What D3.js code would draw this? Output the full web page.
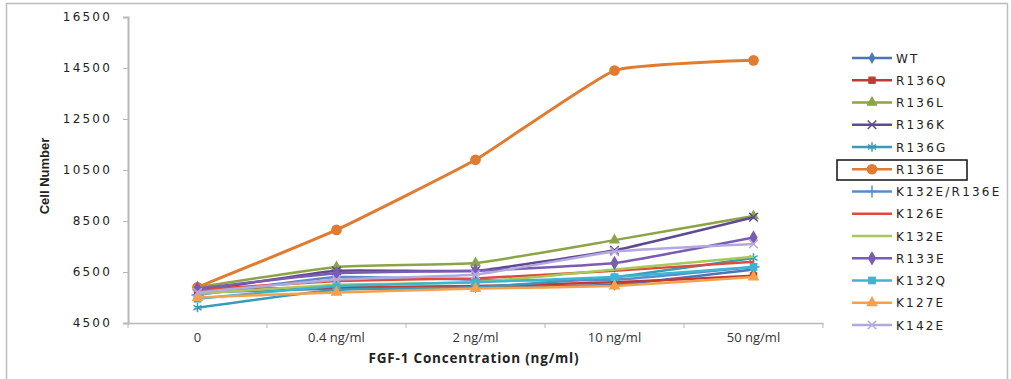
<!DOCTYPE html>
<html><head><meta charset="utf-8">
<script src="https://cdn.jsdelivr.net/npm/d3@7"></script>
<style>body{margin:0;background:#fff}svg{display:block}</style>
</head><body>
<svg id="c" width="1011" height="379"></svg>
<script>
const categories = ["0", "0.4 ng/ml", "2 ng/ml", "10 ng/ml", "50 ng/ml"];
const seriesNames = ["WT","R136Q","R136L","R136K","R136G","R136E","K132E/R136E","K126E","K132E","R133E","K132Q","K127E","K142E"];
const WT      = [5700, 5850, 5900, 6000, 6600];
const R136Q   = [5800, 5900, 5950, 6100, 6350];
const R136L   = [5900, 6700, 6850, 7750, 8700];
const R136K   = [5750, 6550, 6550, 7350, 8650];
const R136G   = [5100, 5800, 5900, 6300, 7050];
const R136E   = [5900, 8150, 10900, 14400, 14800];
const K132E_R136E = [5600, 6300, 6200, 6200, 6700];
const K126E   = [5800, 6150, 6250, 6550, 6900];
const K132E   = [5650, 6000, 6100, 6600, 7100];
const R133E   = [5850, 6450, 6550, 6850, 7850];
const K132Q   = [5450, 5950, 6100, 6300, 6700];
const K127E   = [5500, 5700, 5850, 5950, 6300];
const K142E   = [5700, 6200, 6400, 7300, 7600];
const values = [WT,R136Q,R136L,R136K,R136G,R136E,K132E_R136E,K126E,K132E,R133E,K132Q,K127E,K142E];
const yTicks = [4500, 6500, 8500, 10500, 12500, 14500, 16500];

const colors = ["#4A76B8","#BE3A34","#8BA446","#5E4A93","#3A9BB8","#E07B30","#5B8CC8","#E04A3A","#A8C85A","#7A5CB0","#3CB4D2","#F5A04A","#B4A8E0"];
const markers = [d3.symbolDiamond, d3.symbolSquare, d3.symbolTriangle, d3.symbolTimes, d3.symbolAsterisk, d3.symbolCircle, d3.symbolPlus, null, null, d3.symbolDiamond, d3.symbolSquare, d3.symbolTriangle, d3.symbolTimes];
const msize = [40, 55, 55, 50, 60, 90, 50, 0, 0, 60, 60, 60, 50];
const strokeMarker = m => m===d3.symbolTimes || m===d3.symbolPlus || m===d3.symbolAsterisk;

const svg = d3.select("#c");
svg.append("rect").attr("x",6.5).attr("y",3.5).attr("width",1001).attr("height",420)
  .attr("fill","none").attr("stroke","#bdbdbd").attr("stroke-width",1.5);

const mLeft = 128, mRight = 823, mTop = 17, mBottom = 323;
const x = d3.scaleBand().domain(categories).range([mLeft, mRight]);
const y = d3.scaleLinear().domain([4500, 16500]).range([mBottom, mTop]);
const cx = c => x(c) + x.bandwidth()/2;

// Y axis
const yAxis = svg.append("g").attr("transform",`translate(${mLeft},0)`)
  .call(d3.axisLeft(y).tickValues(yTicks).tickSize(5).tickPadding(6).tickFormat(d3.format("d")));
yAxis.select(".domain").attr("stroke","#b8b8b8").attr("stroke-width",2);
yAxis.selectAll(".tick line").attr("stroke","#b8b8b8");
yAxis.selectAll("text").attr("font-family","DejaVu Sans").attr("font-size",12)
  .attr("letter-spacing","2.2px").attr("fill","#222").attr("dx","-5");

// X axis
const xAxis = svg.append("g").attr("transform",`translate(0,${mBottom})`)
  .call(d3.axisBottom(x).tickSize(0).tickPadding(10));
xAxis.select(".domain").attr("stroke","#b8b8b8").attr("stroke-width",1.5);
xAxis.selectAll("text").attr("font-family","Open Sans").attr("font-size",13).attr("fill","#333");
const bounds = categories.map(c => x(c)).concat([mRight]);
svg.append("g").selectAll("line").data(bounds).join("line")
  .attr("x1",d=>d).attr("x2",d=>d).attr("y1",mBottom).attr("y2",mBottom+5)
  .attr("stroke","#b8b8b8");

// Axis titles
svg.append("text").attr("x",474).attr("y",363).attr("text-anchor","middle")
  .attr("font-family","Open Sans").attr("font-weight","bold").attr("font-size",13.5)
  .attr("letter-spacing","0.8px").attr("fill","#222")
  .text("FGF-1 Concentration (ng/ml)");
svg.append("text").attr("transform","translate(49,176) rotate(-90)").attr("text-anchor","middle")
  .attr("font-family","Liberation Sans Narrow, Liberation Sans").attr("font-weight","bold").attr("font-size",13)
  .attr("fill","#222").text("Cell Number");

// Lines
const line = d3.line().x((d,i)=>cx(categories[i])).y(d=>y(d)).curve(d3.curveCardinal.tension(0.6));
const plot = svg.append("g");
seriesNames.forEach((name, s) => {
  const g = plot.append("g");
  g.append("path").attr("d", line(values[s])).attr("fill","none")
    .attr("stroke", colors[s]).attr("stroke-width", s===5?3:2.5);
  if (markers[s]) {
    const sym = d3.symbol().type(markers[s]).size(msize[s]);
    g.selectAll("path.m").data(values[s]).join("path").attr("class","m")
      .attr("transform",(d,i)=>`translate(${cx(categories[i])},${y(d)})`)
      .attr("d", sym())
      .attr("fill", strokeMarker(markers[s]) ? "none" : colors[s])
      .attr("stroke", colors[s]).attr("stroke-width", strokeMarker(markers[s]) ? 1.5 : 0);
  }
});

// Legend
const legY0 = 58, legStep = 22.25;
const leg = svg.append("g");
seriesNames.forEach((name, s) => {
  const ly = legY0 + s*legStep;
  leg.append("line").attr("x1",852).attr("x2",892).attr("y1",ly).attr("y2",ly)
    .attr("stroke",colors[s]).attr("stroke-width",2.5);
  if (markers[s]) {
    const sym = d3.symbol().type(markers[s]).size(msize[s]);
    leg.append("path").attr("transform",`translate(872,${ly})`).attr("d",sym())
      .attr("fill", strokeMarker(markers[s]) ? "none" : colors[s])
      .attr("stroke", colors[s]).attr("stroke-width", strokeMarker(markers[s]) ? 1.5 : 0);
  }
  leg.append("text").attr("x",896).attr("y",ly+4.5)
    .attr("font-family","DejaVu Sans").attr("font-size",12).attr("letter-spacing","2.2px")
    .attr("fill","#222").text(name);
});
leg.append("rect").attr("x",837).attr("y",160).attr("width",130).attr("height",20)
  .attr("fill","none").attr("stroke","#111").attr("stroke-width",1.5);
</script>
</body></html>
